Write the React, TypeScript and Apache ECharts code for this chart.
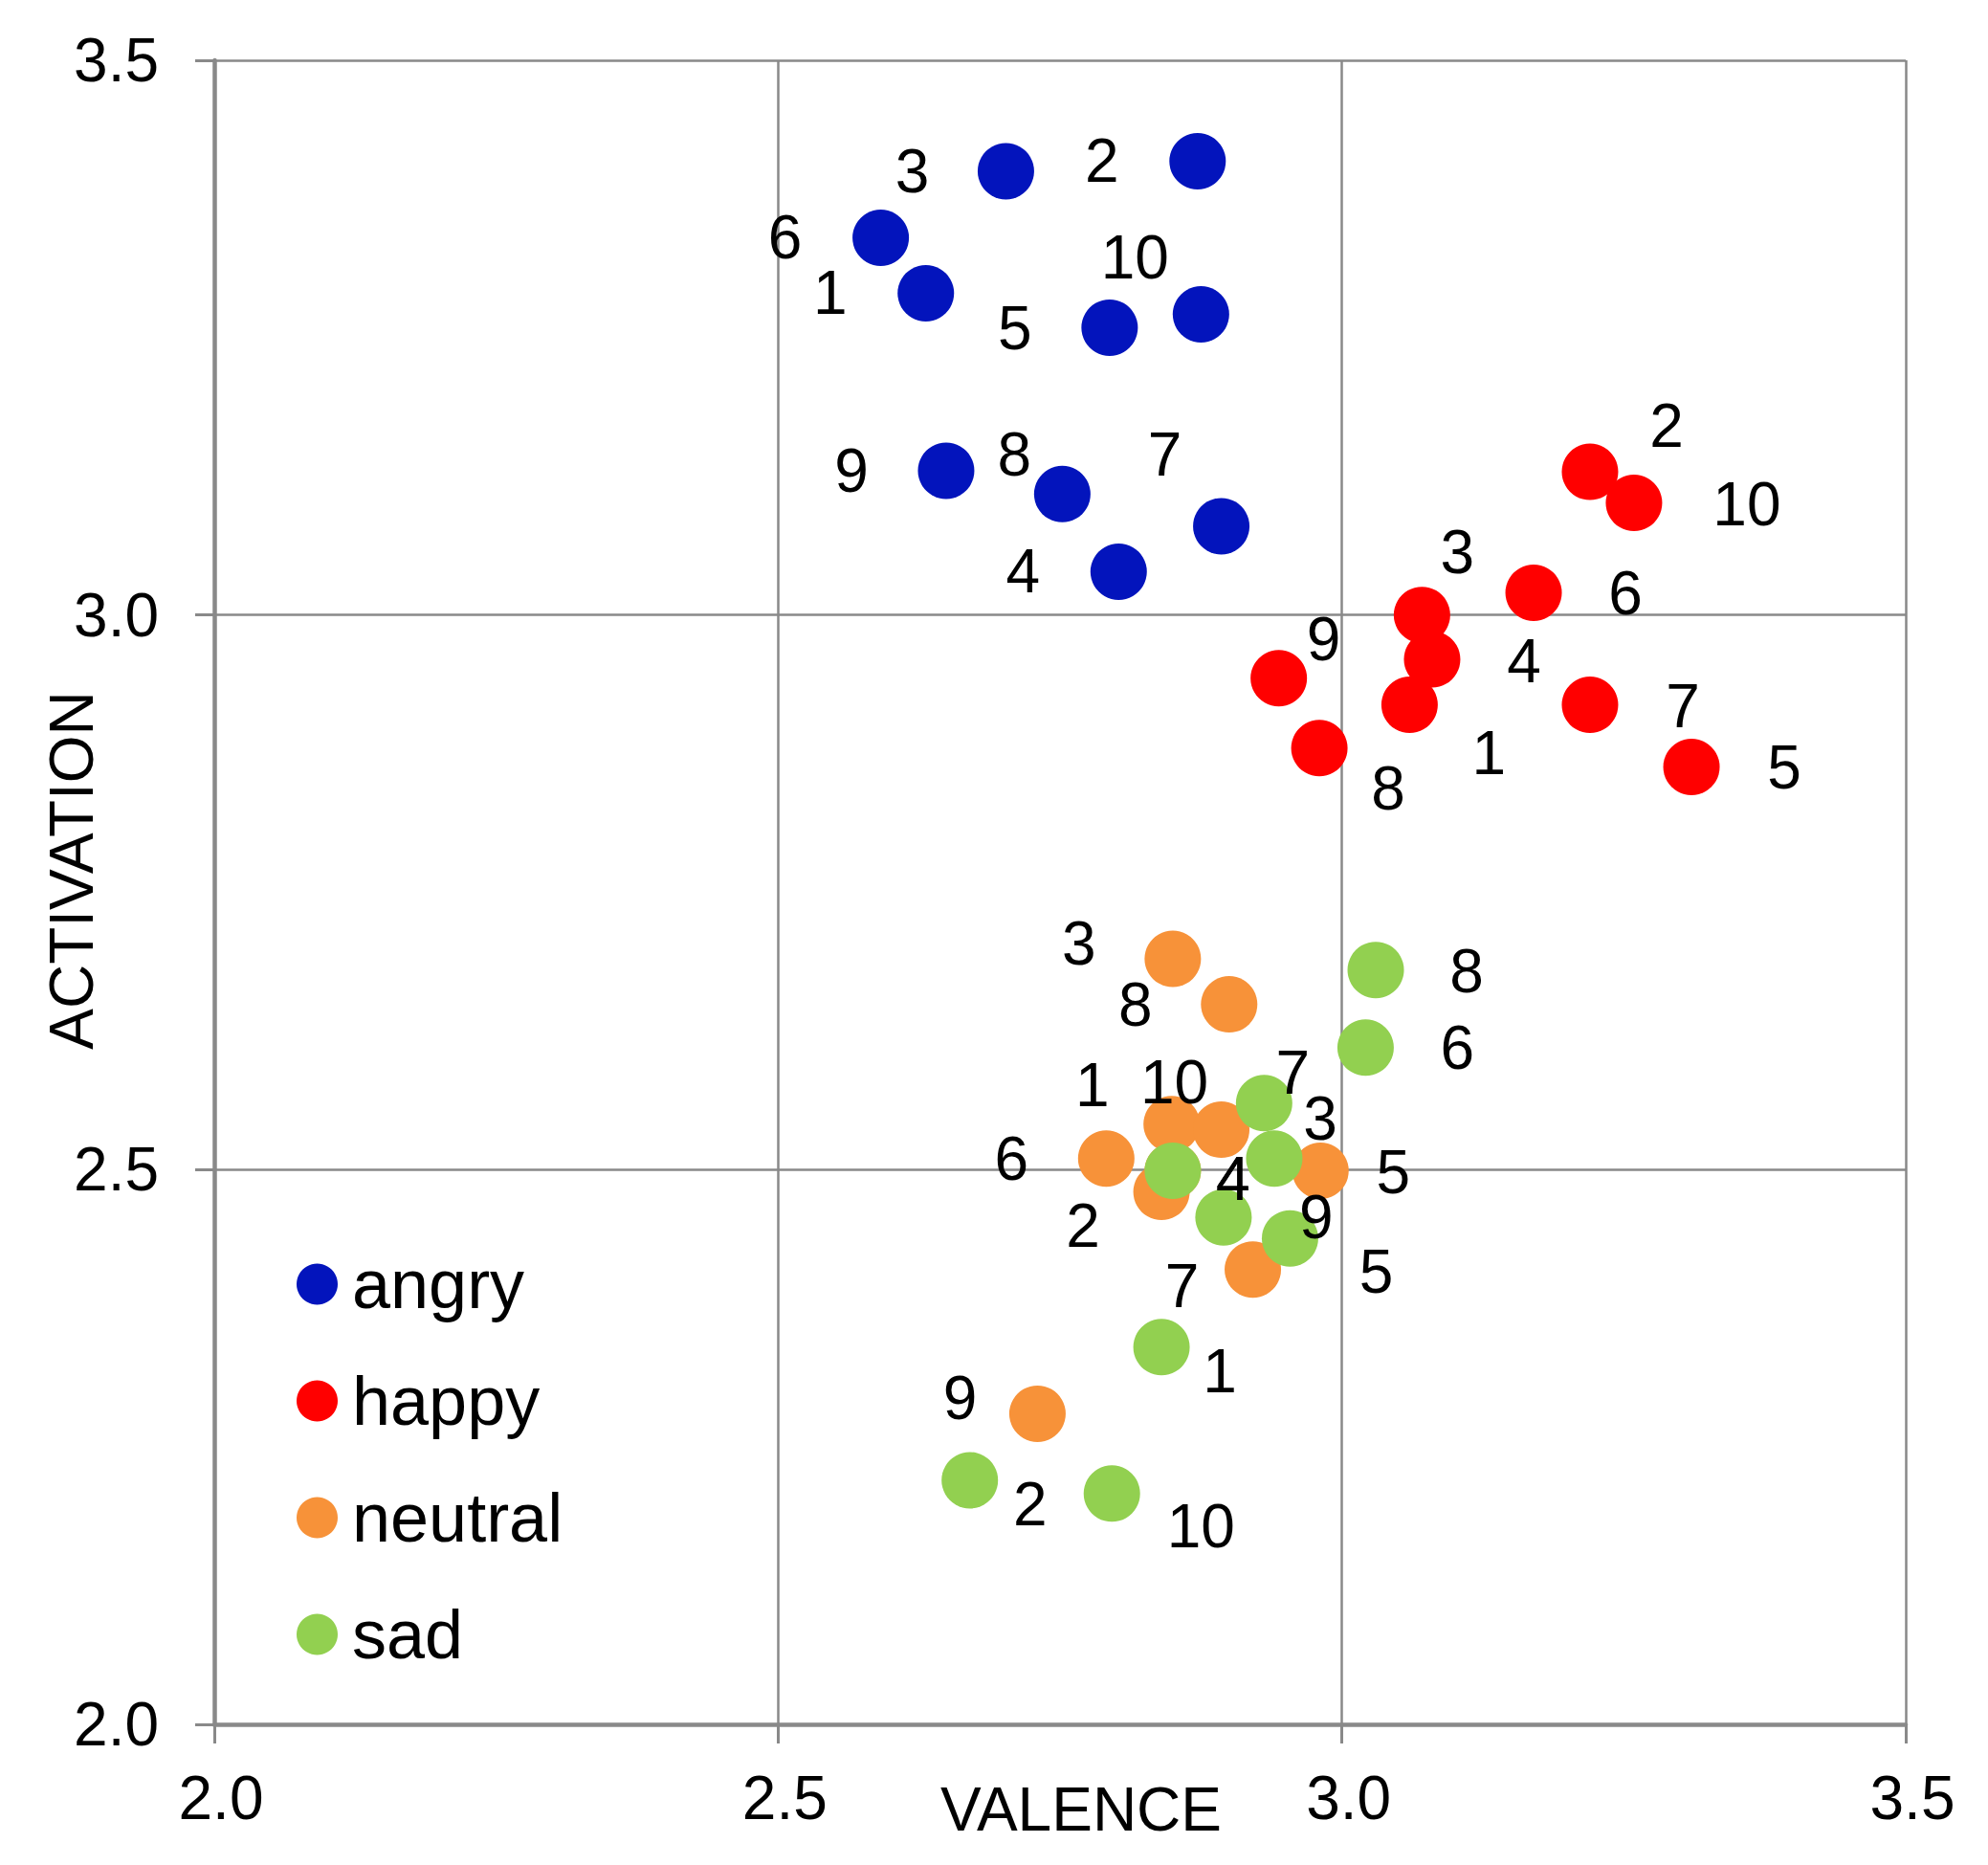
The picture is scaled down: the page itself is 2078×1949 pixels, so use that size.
import { useEffect, useRef } from 'react';
import * as echarts from 'echarts';

// emotion categories and their colours
const categories = ['angry', 'happy', 'neutral', 'sad'];
const categoryColors = ['#0314BC', '#FF0000', '#F79239', '#92D050'];

// speaker ids shown next to each point
const pointIds = ['1', '2', '3', '4', '5', '6', '7', '8', '9', '10'];

const angryValence = [2.631, 2.872, 2.702, 2.802, 2.794, 2.591, 2.893, 2.752, 2.649, 2.875];
const angryActivation = [3.290, 3.409, 3.400, 3.039, 3.259, 3.340, 3.080, 3.109, 3.130, 3.271];

const happyValence = [3.060, 3.220, 3.071, 3.080, 3.310, 3.170, 3.220, 2.980, 2.944, 3.259];
const happyActivation = [2.919, 3.129, 3.000, 2.960, 2.863, 3.020, 2.919, 2.880, 2.943, 3.101];

const neutralValence = [2.849, 2.840, 2.850, 2.850, 2.981, 2.791, 2.921, 2.900, 2.730, 2.893];
const neutralActivation = [2.541, 2.480, 2.690, 2.499, 2.499, 2.510, 2.410, 2.649, 2.280, 2.536];

const sadValence = [2.840, 2.670, 2.940, 2.850, 2.954, 3.021, 2.931, 3.030, 2.895, 2.796];
const sadActivation = [2.340, 2.220, 2.510, 2.499, 2.438, 2.610, 2.560, 2.680, 2.457, 2.208];

// where each id label sits relative to its point (px)
const angryLabelShift = [[-100, 0], [-100, 0], [-98, 0], [-100, 0], [-99, 1], [-100, 0], [-59, -75], [-50, -41], [-99, 0], [-69, -59]];
const happyLabelShift = [[83, 50], [80, -48], [37, -66], [96, 2], [97, 1], [96, 1], [97, 1], [72, 42], [47, -41], [118, 1]];
const neutralLabelShift = [[-83, -41], [-82, 35], [-98, -16], [63, 9], [76, 2], [-99, 0], [-74, 17], [-98, 0], [-81, -16], [-49, -50]];
const sadLabelShift = [[61, 25], [63, 25], [48, -42], [63, 9], [90, 35], [96, 0], [30, -32], [95, 1], [97, 0], [93, 34]];

const axisMin = 2;
const axisMax = 3.5;
const axisStep = 0.5;

const FONT = 'Liberation Sans, Arial, sans-serif';
const GRAY = '#898989';

function buildSeries(name: string, color: string, xs: number[], ys: number[], shifts: number[][]) {
  return {
    name,
    type: 'scatter',
    symbol: 'circle',
    symbolSize: 59,
    itemStyle: { color, opacity: 1 },
    emphasis: { disabled: true },
    label: {
      show: true,
      position: 'inside',
      color: '#000',
      opacity: 1,
      fontSize: 64,
      fontFamily: FONT,
      formatter: (p: any) => pointIds[p.dataIndex],
    },
    data: xs.map((x, i) => ({
      value: [x, ys[i]],
      label: { offset: shifts[i] },
    })),
  };
}

export default function App() {
  const chartRef = useRef<HTMLDivElement>(null);

  useEffect(() => {
    if (!chartRef.current) return;
    const chart = echarts.init(chartRef.current, null, { renderer: 'svg' });

    const axisCommon = {
      type: 'value',
      min: axisMin,
      max: axisMax,
      interval: axisStep,
      nameLocation: 'middle',
      nameMoveOverlap: false,
      axisLine: { show: true, onZero: false, lineStyle: { color: GRAY, width: 4.5 } },
      axisTick: { show: true, length: 20, lineStyle: { color: GRAY, width: 3 } },
      splitLine: { show: true, lineStyle: { color: GRAY, width: 2.5 } },
    };

    chart.setOption({
      animation: false,
      backgroundColor: '#fff',
      textStyle: { fontFamily: FONT },
      grid: { left: 224, top: 63, right: 86, bottom: 147, containLabel: false, outerBoundsMode: 'none' },
      legend: {
        orient: 'vertical',
        left: 310,
        top: 1306,
        padding: 0,
        itemWidth: 43,
        itemHeight: 43,
        itemGap: 50,
        icon: 'circle',
        data: categories,
        textStyle: { fontSize: 72, color: '#000', fontFamily: FONT, padding: [0, 0, 0, 10] },
      },
      xAxis: {
        ...axisCommon,
        name: 'VALENCE',
        nameGap: 57,
        nameTextStyle: { fontSize: 64, color: '#000', fontFamily: FONT, padding: [0, 0, 0, 44] },
        axisLabel: {
          fontSize: 64,
          color: '#000',
          fontFamily: FONT,
          margin: 45,
          padding: [0, 0, 0, 14],
          showMinLabel: true,
          showMaxLabel: true,
          formatter: (v: number) => v.toFixed(1),
        },
      },
      yAxis: {
        ...axisCommon,
        name: 'ACTIVATION',
        nameGap: 117,
        nameRotate: 90,
        nameTextStyle: { fontSize: 64, color: '#000', fontFamily: FONT, padding: [0, 0, 0, 46] },
        axisLabel: {
          fontSize: 64,
          color: '#000',
          fontFamily: FONT,
          margin: 58,
          showMinLabel: true,
          showMaxLabel: true,
          formatter: (v: number) => v.toFixed(1),
        },
      },
      series: [
        buildSeries(categories[0], categoryColors[0], angryValence, angryActivation, angryLabelShift),
        buildSeries(categories[1], categoryColors[1], happyValence, happyActivation, happyLabelShift),
        buildSeries(categories[2], categoryColors[2], neutralValence, neutralActivation, neutralLabelShift),
        buildSeries(categories[3], categoryColors[3], sadValence, sadActivation, sadLabelShift),
      ],
    });

    return () => chart.dispose();
  }, []);

  return (
    <div
      ref={chartRef}
      style={{ position: 'fixed', left: 0, top: 0, width: 2078, height: 1949, background: '#fff' }}
    />
  );
}
